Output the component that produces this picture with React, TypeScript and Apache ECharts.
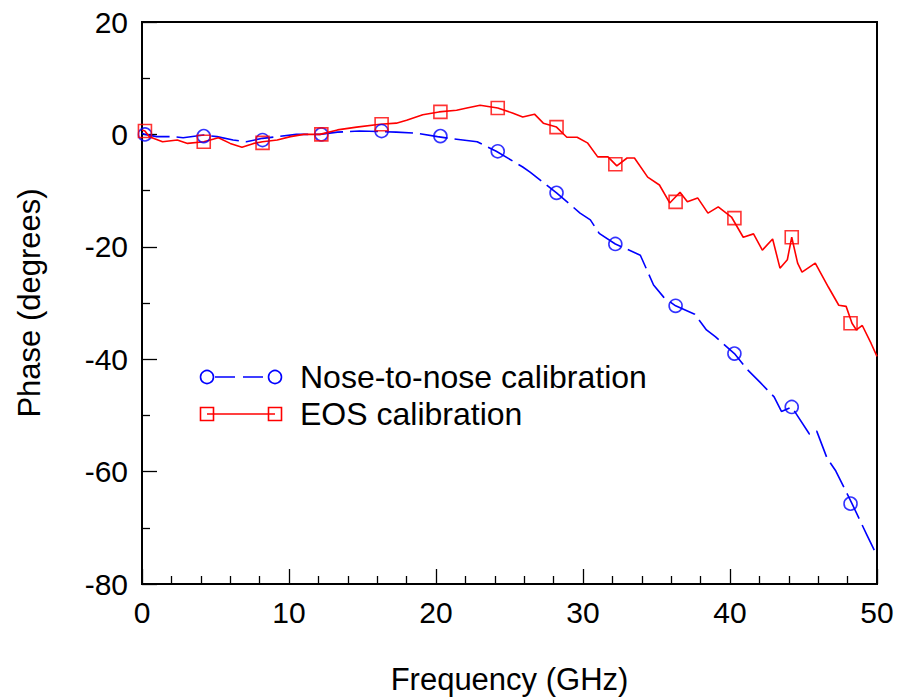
import React, { useEffect, useRef } from "react";
import * as echarts from "echarts";

const xTicks = [0, 10, 20, 30, 40, 50];
const yTicks = [20, 0, -20, -40, -60, -80];

const seriesNames = ["Nose-to-nose calibration", "EOS calibration"];

// Nose-to-nose calibration (blue, dashed) line trace: [GHz, degrees]
const noseLine: number[][] = [
  [0, 0.2], [0.2, 0], [1.0, -0.4], [2.1, -0.4], [2.8, -0.6], [4.2, -0.1], [5.1, -0.4],
  [6.2, -1.0], [7.1, -1.3], [8.2, -0.7], [9.2, -0.4], [10.5, 0], [12.1, 0], [13.3, 0.4],
  [14.8, 0.6], [16.2, 0.5], [17.3, 0.4], [18.7, 0.2], [20.1, -0.4], [20.9, -0.7],
  [22.8, -1.3], [24.1, -3], [25.9, -5.8], [26.4, -6.7], [28.2, -10.4], [29.8, -14],
  [30.5, -15.2], [31.1, -17.6], [32.2, -19.5], [33.9, -21.5], [34.8, -26.8], [35.5, -29],
  [36.3, -30.5], [37.6, -32], [38.4, -34.8], [39.0, -36], [40.3, -39], [41.2, -41.9],
  [42.0, -44], [43.0, -46.7], [43.5, -49.3], [44.2, -48.5], [45.4, -53.3], [45.9, -52.8],
  [46.6, -57.6], [47.2, -59.9], [48.3, -65.7], [49.3, -71.2], [50, -75],
];

// Nose-to-nose markers
const noseMarkers: number[][] = [
  [0.2, 0], [4.2, -0.3], [8.2, -1], [12.2, 0], [16.3, 0.6], [20.3, -0.3], [24.2, -3],
  [28.2, -10.4], [32.2, -19.5], [36.3, -30.5], [40.3, -39], [44.2, -48.5], [48.2, -65.7],
];

// EOS calibration (red, solid) line trace
const eosLine: number[][] = [
  [0, 0.8], [0.2, 0.6], [0.5, -0.4], [1.4, -1.3], [2.4, -1.0], [3.1, -1.6], [4.2, -1.3],
  [5.2, -0.6], [6.0, -1.6], [6.8, -2.3], [7.6, -1.6], [8.2, -1.3], [9.2, -1.0], [10.1, -0.4],
  [11.0, 0], [12.1, 0], [13.3, 0.8], [14.6, 1.3], [16.2, 1.8], [17.3, 2.0], [18.0, 2.5],
  [19.1, 3.5], [20.2, 4.0], [21.4, 4.3], [22.1, 4.7], [23.0, 5.2], [24.2, 4.7], [25.2, 3.8],
  [25.9, 3.1], [26.7, 3.6], [27.3, 2.0], [28.2, 1.3], [28.9, -0.5], [29.6, -0.5],
  [30.3, -1.5], [31.0, -4], [31.7, -4], [32.3, -5.6], [33.0, -4.2], [33.5, -4.2],
  [34.4, -7.6], [35.2, -9], [35.9, -12.2], [36.6, -10.3], [37.1, -12], [37.8, -11.3],
  [38.5, -14], [39.2, -12.9], [40.1, -14.7], [40.9, -18.3], [41.6, -17.7], [42.2, -20.6],
  [42.9, -18.6], [43.4, -23.8], [43.9, -22.3], [44.2, -18.3], [44.6, -22.9], [44.9, -24.5],
  [45.8, -22.9], [46.7, -27.2], [47.4, -30.4], [47.9, -30.6], [48.3, -33.6], [48.6, -34.8],
  [49.0, -34], [49.6, -37.2], [50, -39.5],
];

// EOS markers
const eosMarkers: number[][] = [
  [0.2, 0.6], [4.2, -1.3], [8.2, -1.5], [12.2, 0], [16.3, 1.8], [20.3, 4.0], [24.2, 4.7],
  [28.2, 1.3], [32.2, -5.3], [36.3, -12], [40.3, -14.9], [44.2, -18.3], [48.2, -33.6],
];

const BLUE = "#0000ff";
const RED = "#ff0000";
const FONT = "Liberation Sans, Arial, sans-serif";

export default function App() {
  const ref = useRef<HTMLDivElement>(null);

  useEffect(() => {
    if (!ref.current) return;
    const chart = echarts.init(ref.current, undefined, { renderer: "svg" });

    const legendY1 = 377;
    const legendY2 = 414;

    chart.setOption({
      animation: false,
      backgroundColor: "#ffffff",
      grid: {
        left: 142,
        right: 20,
        top: 22,
        bottom: 116,
        show: true,
        borderColor: "#000",
        borderWidth: 2,
        backgroundColor: "transparent",
      },
      xAxis: {
        type: "value",
        min: xTicks[0],
        max: xTicks[xTicks.length - 1],
        interval: 10,
        name: "Frequency (GHz)",
        nameLocation: "middle",
        nameGap: 80,
        nameTextStyle: { fontSize: 31, color: "#000", fontFamily: FONT },
        axisLine: { show: true, onZero: false, lineStyle: { color: "#000", width: 2 } },
        axisTick: { show: true, inside: true, length: 15, lineStyle: { color: "#000", width: 1.3 } },
        minorTick: { show: true, splitNumber: 5, length: 8, lineStyle: { color: "#000", width: 1.3 } },
        axisLabel: { fontSize: 30, color: "#000", fontFamily: FONT, margin: 13 },
        splitLine: { show: false },
        minorSplitLine: { show: false },
      },
      yAxis: {
        type: "value",
        min: yTicks[yTicks.length - 1],
        max: yTicks[0],
        interval: 20,
        name: "Phase (degrees)",
        nameLocation: "middle",
        nameGap: 97,
        nameTextStyle: { fontSize: 31, color: "#000", fontFamily: FONT },
        axisLine: { show: true, onZero: false, lineStyle: { color: "#000", width: 2 } },
        axisTick: { show: true, inside: true, length: 15, lineStyle: { color: "#000", width: 1.3 } },
        minorTick: { show: true, splitNumber: 2, length: 8, lineStyle: { color: "#000", width: 1.3 } },
        axisLabel: { fontSize: 30, color: "#000", fontFamily: FONT, margin: 14 },
        splitLine: { show: false },
        minorSplitLine: { show: false },
      },
      series: [
        {
          name: seriesNames[0],
          type: "line",
          data: noseLine,
          showSymbol: false,
          symbol: "none",
          lineStyle: { color: BLUE, width: 1.6, type: [28, 7] },
          z: 3,
        },
        {
          name: seriesNames[0] + " markers",
          type: "scatter",
          data: noseMarkers,
          symbol: "circle",
          symbolSize: 13,
          itemStyle: { color: "rgba(0,0,0,0)", borderColor: BLUE, borderWidth: 1.6 },
          z: 4,
        },
        {
          name: seriesNames[1],
          type: "line",
          data: eosLine,
          showSymbol: false,
          symbol: "none",
          lineStyle: { color: RED, width: 1.6 },
          z: 3,
        },
        {
          name: seriesNames[1] + " markers",
          type: "scatter",
          data: eosMarkers,
          symbol: "rect",
          symbolSize: 13,
          itemStyle: { color: "rgba(0,0,0,0)", borderColor: RED, borderWidth: 1.6 },
          z: 4,
        },
      ],
      graphic: [
        {
          type: "line",
          shape: { x1: 207, y1: legendY1, x2: 275, y2: legendY1 },
          style: { stroke: BLUE, lineWidth: 1.6, lineDash: [20, 8], lineDashOffset: -8 },
        },
        { type: "circle", shape: { cx: 207, cy: legendY1, r: 6.5 }, style: { fill: "#fff", stroke: BLUE, lineWidth: 1.6 } },
        { type: "circle", shape: { cx: 275, cy: legendY1, r: 6.5 }, style: { fill: "#fff", stroke: BLUE, lineWidth: 1.6 } },
        {
          type: "text",
          x: 300,
          y: legendY1,
          style: { text: seriesNames[0], fontSize: 32, fill: "#000", fontFamily: FONT, verticalAlign: "middle" },
        },
        {
          type: "line",
          shape: { x1: 207, y1: legendY2, x2: 275, y2: legendY2 },
          style: { stroke: RED, lineWidth: 1.6 },
        },
        { type: "rect", shape: { x: 200.5, y: legendY2 - 6.5, width: 13, height: 13 }, style: { fill: "rgba(0,0,0,0)", stroke: RED, lineWidth: 1.6 } },
        { type: "rect", shape: { x: 268.5, y: legendY2 - 6.5, width: 13, height: 13 }, style: { fill: "rgba(0,0,0,0)", stroke: RED, lineWidth: 1.6 } },
        {
          type: "text",
          x: 300,
          y: legendY2,
          style: { text: seriesNames[1], fontSize: 32, fill: "#000", fontFamily: FONT, verticalAlign: "middle" },
        },
      ],
    });

    return () => chart.dispose();
  }, []);

  return <div ref={ref} style={{ width: 897, height: 700, position: "absolute", left: 0, top: 0 }} />;
}
